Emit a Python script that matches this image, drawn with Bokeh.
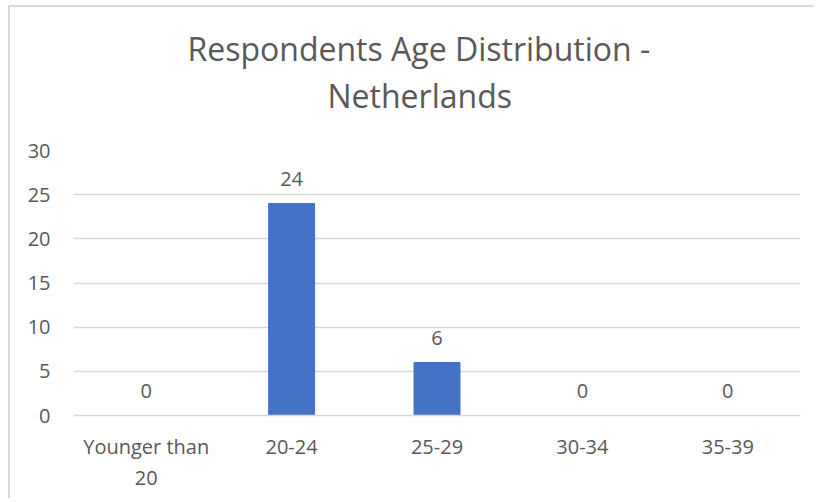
from bokeh.plotting import figure
from bokeh.models import ColumnDataSource, LabelSet, FixedTicker, Range1d, Title
from bokeh.core.properties import value
from bokeh.embed import file_html
from bokeh.resources import INLINE

categories = ["Younger than\n20", "20-24", "25-29", "30-34", "35-39"]
counts = [0, 24, 6, 0, 0]
value_labels = [str(c) for c in counts]
y_ticks = [0, 5, 10, 15, 20, 25, 30]
title_line1 = "Respondents Age Distribution -"
title_line2 = "Netherlands"

TEXT = "#595959"
GRID = "#D9D9D9"
BAR = "#4472C4"
FONT = "Open Sans"

src = ColumnDataSource(dict(cat=categories, val=counts, lab=value_labels))

p = figure(x_range=categories, y_range=Range1d(0, 30), width=805, height=493,
           title=None, output_backend="svg", toolbar_location=None,
           min_border_left=63, min_border_right=15, min_border_top=143, min_border_bottom=85)

p.vbar(x="cat", top="val", width=0.316, source=src, fill_color=BAR, line_color=BAR)

labels = LabelSet(x="cat", y="val", text="lab", source=src, y_offset=18,
                  text_align="center", text_baseline="alphabetic",
                  text_font=value(FONT), text_font_size="20px", text_color=TEXT)
p.add_layout(labels)

for txt, so, off in ((title_line2, 68, 254), (title_line1, -65, 114)):
    p.add_layout(Title(text=txt, align="left", offset=off, standoff=so,
                       text_font=FONT, text_font_size="32px", text_font_style="normal",
                       text_color=TEXT), "above")

p.outline_line_color = None
p.background_fill_color = "white"
p.border_fill_color = "white"

p.xgrid.grid_line_color = None
p.ygrid.grid_line_color = GRID
p.ygrid.grid_line_width = 1.5
p.yaxis.ticker = FixedTicker(ticks=y_ticks)

for ax in (p.xaxis, p.yaxis):
    ax.major_label_text_font = FONT
    ax.major_label_text_font_size = "20px"
    ax.major_label_text_color = TEXT
    ax.major_tick_line_color = None
    ax.minor_tick_line_color = None
    ax.major_tick_out = 0
    ax.major_tick_in = 0

p.yaxis.axis_line_color = None
p.yaxis.major_label_standoff = 23
p.xaxis.axis_line_color = GRID
p.xaxis.axis_line_width = 1.5
p.xaxis.major_label_standoff = 17
p.xaxis.major_label_text_line_height = 1.18

p.styles = {"margin-left": "8px", "margin-top": "5px",
            "border-left": "2px solid #D9D9D9", "border-top": "2px solid #D9D9D9"}

open("out.html", "w").write(file_html(p, INLINE))
